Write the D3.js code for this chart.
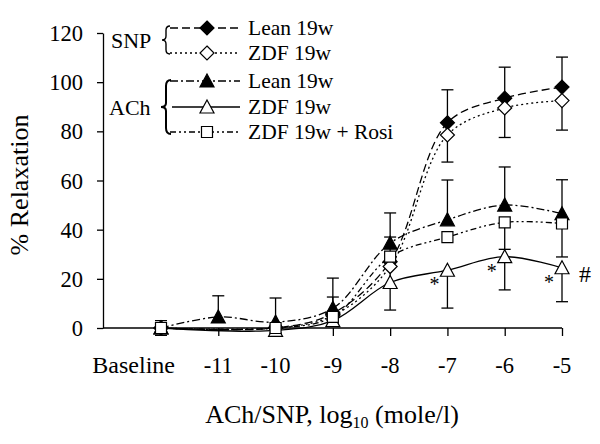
<!DOCTYPE html>
<html><head><meta charset="utf-8">
<script src="https://cdn.jsdelivr.net/npm/d3@7"></script>
<style>
html,body{margin:0;padding:0;background:#fff;}
</style></head>
<body><svg id="c" width="600" height="444"></svg>
<script>
const categories = ["Baseline","-11","-10","-9","-8","-7","-6","-5"];
const yTicks = [0,20,40,60,80,100,120];
const leanSNP     = [0, null, 0, 6, 27, 83.5, 93.5, 98];
const leanSNPErr  = [0, null, 0, 6.6, 10, 13.4, 12.6, 12.2];
const zdfSNP      = [0, null, 0, 5, 25, 78.5, 89.5, 92.5];
const zdfSNPErr   = [0, null, 0, 3, 8, 11, 12, 12];
const leanACh     = [0, 4.5, 2.4, 8, 34.5, 44, 50, 46.5];
const leanAChErr  = [3, 8.6, 9.8, 12.3, 12.3, 16.2, 15.5, 13.8];
const zdfACh      = [0, null, -1, 3, 18.5, 23.5, 29, 24.5];
const zdfAChErr   = [3, null, 1, 2, 11.2, 15.4, 13.5, 13.8];
const rosi        = [0, null, 0, 4.5, 29, 37, 43, 42.5];
const rosiErr     = [0, null, 0, 0, 0, 0, 11, 13.6];
const legendLabels = ["Lean 19w","ZDF 19w","Lean 19w","ZDF 19w","ZDF 19w + Rosi"];
const sigIndex = [5,6,7];

const FONT = "Liberation Serif";
const svg = d3.select("#c");
const axisX0 = 103, axisX1 = 562;
const x = d3.scalePoint().domain(categories).range([161, 562]);
const y = d3.scaleLinear().domain([0,120]).range([328, 33]);

const series = [
  {vals: leanSNP, err: leanSNPErr, dir: -1, dash: "8,4", shape: "diamond", fill: "#000"},
  {vals: zdfSNP, err: zdfSNPErr, dir: 1, dash: "2,3", shape: "diamond", fill: "#fff"},
  {vals: leanACh, err: leanAChErr, dir: -1, dash: "8,3,2,3", shape: "triangle", fill: "#000"},
  {vals: zdfACh, err: zdfAChErr, dir: 1, dash: null, shape: "triangle", fill: "#fff"},
  {vals: rosi, err: rosiErr, dir: 1, dash: "6,3,2,3,2,3", shape: "square", fill: "#fff"}
];

function markerPath(shape, cx, cy) {
  if (shape === "diamond") {
    const r = 7;
    return `M${cx},${cy-r}L${cx+r},${cy}L${cx},${cy+r}L${cx-r},${cy}Z`;
  } else if (shape === "triangle") {
    return `M${cx},${cy-7}L${cx+7},${cy+6}L${cx-7},${cy+6}Z`;
  } else {
    const h = 5.5;
    return `M${cx-h},${cy-h}L${cx+h},${cy-h}L${cx+h},${cy+h}L${cx-h},${cy+h}Z`;
  }
}
function txt(sel) { return sel.attr("font-family", FONT).attr("fill","#000"); }

// axes
const gx = svg.append("g").attr("transform", `translate(0,${y(0)})`)
  .call(d3.axisBottom(x).tickSize(8).tickSizeOuter(0).tickFormat(""));
gx.select(".domain").remove();
gx.selectAll("line").attr("stroke","#000").attr("stroke-width",1.3);
svg.append("line").attr("x1",axisX0).attr("x2",axisX1).attr("y1",y(0)).attr("y2",y(0))
  .attr("stroke","#000").attr("stroke-width",1.3);

const gy = svg.append("g").attr("transform", `translate(${axisX0},0)`)
  .call(d3.axisLeft(y).tickValues(yTicks).tickSize(6).tickSizeOuter(0).tickFormat(""));
gy.select(".domain").attr("stroke","#000").attr("stroke-width",1.3);
gy.selectAll("line").attr("stroke","#000").attr("stroke-width",1.3);

txt(svg.selectAll(".ylab").data(yTicks).enter().append("text")
  .attr("x", 83).attr("y", d => y(d) + 8)
  .attr("text-anchor","end").attr("font-size", 22.5).text(d => d));

txt(svg.selectAll(".xlab").data(categories).enter().append("text")
  .attr("x", (d,i) => i === 0 ? 175 : x(d))
  .attr("y", 373)
  .attr("text-anchor", (d,i) => i === 0 ? "end" : "middle")
  .attr("font-size", (d,i) => i === 0 ? 24 : 22.5).text(d => d));

// axis titles
txt(svg.append("text").attr("transform","translate(28,185) rotate(-90)")
  .attr("text-anchor","middle").attr("font-size",26).text("% Relaxation"));
const xt = txt(svg.append("text").attr("x",332).attr("y",423).attr("text-anchor","middle").attr("font-size",26));
xt.append("tspan").text("ACh/SNP, log");
xt.append("tspan").attr("font-size",16).attr("dy",5).text("10");
xt.append("tspan").attr("dy",-5).text(" (mole/l)");

// error bars
series.forEach(s => {
  s.vals.forEach((v,i) => {
    if (v === null || !s.err[i]) return;
    const cx = x(categories[i]);
    const y1 = y(v), y2 = y(v - s.dir * s.err[i]);
    svg.append("line").attr("x1",cx).attr("x2",cx).attr("y1",y1).attr("y2",y2)
      .attr("stroke","#000").attr("stroke-width",1.3);
    svg.append("line").attr("x1",cx-6).attr("x2",cx+6).attr("y1",y2).attr("y2",y2)
      .attr("stroke","#000").attr("stroke-width",1.3);
  });
});

// lines
const line = d3.line().x(d => x(d.c)).y(d => y(d.v)).curve(d3.curveCatmullRom.alpha(0.5));
series.forEach(s => {
  const pts = s.vals.map((v,i) => ({c: categories[i], v})).filter(d => d.v !== null);
  svg.append("path").attr("d", line(pts)).attr("fill","none")
    .attr("stroke","#000").attr("stroke-width",1.3)
    .attr("stroke-dasharray", s.dash);
});

// markers
series.forEach(s => {
  s.vals.forEach((v,i) => {
    if (v === null) return;
    svg.append("path").attr("d", markerPath(s.shape, x(categories[i]), y(v)))
      .attr("fill", s.fill).attr("stroke","#000").attr("stroke-width",1.2);
  });
});

// significance marks
sigIndex.forEach(i => {
  txt(svg.append("text").attr("x", x(categories[i]) - 13).attr("y", y(zdfACh[i]) + 21)
    .attr("text-anchor","middle").attr("font-size",20).text("*"));
});
txt(svg.append("text").attr("x",579).attr("y",282).attr("font-size",24).text("#"));

// legend
const rowsY = [28, 53, 81, 107, 132];
function brace(x0, y0, y1, w) {
  const ym = (y0 + y1) / 2, h = y1 - y0;
  return `M${x0+w},${y0} Q${x0},${y0} ${x0},${y0+Math.min(6,h*0.15)} L${x0},${ym-4} Q${x0},${ym} ${x0-w},${ym} Q${x0},${ym} ${x0},${ym+4} L${x0},${y1-Math.min(6,h*0.15)} Q${x0},${y1} ${x0+w},${y1}`;
}
svg.append("path").attr("d", brace(166, 26, 54, 4)).attr("fill","none").attr("stroke","#000").attr("stroke-width",1.4);
svg.append("path").attr("d", brace(166, 80, 134, 5)).attr("fill","none").attr("stroke","#000").attr("stroke-width",2);
txt(svg.append("text").attr("x",111).attr("y",48).attr("font-size",22).text("SNP"));
txt(svg.append("text").attr("x",109).attr("y",115).attr("font-size",22).text("ACh"));

series.forEach((s,k) => {
  const ly = rowsY[k];
  const xs = (k === 3) ? 172 : 170;
  svg.append("line").attr("x1", xs).attr("x2", 240).attr("y1", ly).attr("y2", ly)
    .attr("stroke","#000").attr("stroke-width",1.3).attr("stroke-dasharray", s.dash);
  svg.append("path").attr("d", markerPath(s.shape, 207, ly))
    .attr("fill", s.fill).attr("stroke","#000").attr("stroke-width",1.2);
  txt(svg.append("text").attr("x",248).attr("y",ly+7).attr("font-size",21.5).text(legendLabels[k]));
});
</script></body></html>
